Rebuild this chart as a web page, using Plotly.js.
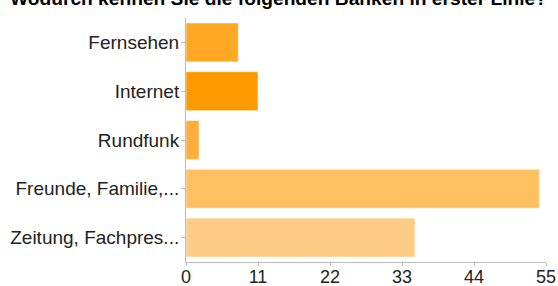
<!DOCTYPE html>
<html>
<head>
<meta charset="utf-8">
<script src="https://cdn.plot.ly/plotly-3.0.1.min.js"></script>
<style>html,body{margin:0;padding:0;background:#fff;}#chart{width:558px;height:286px;}</style>
</head>
<body>
<div id="chart"></div>
<script>
const categories = ["Fernsehen", "Internet", "Rundfunk", "Freunde, Familie,...", "Zeitung, Fachpres..."];
const values = [8, 11, 2, 54, 35];
const barColors = ["#FFA824", "#FF9900", "#FFAD3D", "#FFC061", "#FFCC88"];
const tickValues = [0, 11, 22, 33, 44, 55];
const chartTitle = "Wodurch kennen Sie die folgenden Banken in erster Linie?";

const trace = {
  type: "bar",
  orientation: "h",
  y: categories,
  x: values,
  marker: { color: barColors, line: { color: "rgba(255,255,255,0.6)", width: 1 } },
  hoverinfo: "none"
};

const layout = {
  width: 558,
  height: 286,
  margin: { l: 186, r: 12, t: 18, b: 24, pad: 0 },
  paper_bgcolor: "#fff",
  plot_bgcolor: "#fff",
  showlegend: false,
  bargap: 0.2,
  font: { family: "Liberation Sans, Arial, sans-serif", size: 18, color: "#222" },
  annotations: [{
    text: "<b>" + chartTitle + "</b>",
    font: { family: "Liberation Sans, Arial, sans-serif", size: 19.2, color: "#000" },
    xref: "paper", x: 0.258, xanchor: "center",
    yref: "paper", y: 1.08, yanchor: "middle",
    showarrow: false
  }],
  xaxis: {
    range: [0, 55],
    tickvals: tickValues,
    ticktext: tickValues.map(String),
    showgrid: false,
    zeroline: false,
    showline: true,
    linecolor: "#bbb",
    linewidth: 1,
    ticks: "outside",
    ticklen: 3,
    tickcolor: "#bbb",
    ticklabelstandoff: -5,
    tickfont: { size: 18, color: "#222" },
    fixedrange: true
  },
  yaxis: {
    autorange: "reversed",
    showgrid: false,
    zeroline: false,
    showline: true,
    linecolor: "#bbb",
    linewidth: 1,
    ticks: "outside",
    ticklen: 4,
    tickcolor: "#bbb",
    ticklabelstandoff: -2,
    tickfont: { size: 19, color: "#222" },
    fixedrange: true
  }
};

Plotly.newPlot("chart", [trace], layout, { displayModeBar: false, staticPlot: true });
</script>
</body>
</html>
